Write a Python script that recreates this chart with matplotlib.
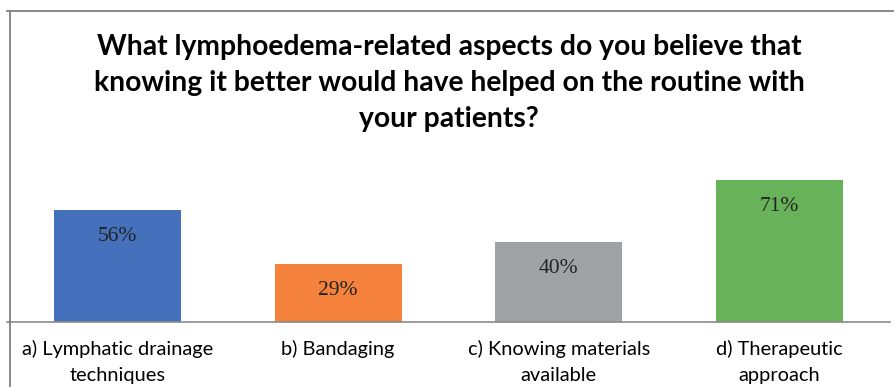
import numpy as np
import matplotlib.pyplot as plt
from matplotlib.lines import Line2D

# survey answers
categories = ["a) Lymphatic drainage\ntechniques", "b) Bandaging",
              "c) Knowing materials\navailable", "d) Therapeutic\napproach"]
percent = [56, 29, 40, 71]
bar_colors = ["#4571BC", "#F4823C", "#A0A2A6", "#68B35A"]

title = ("What lymphoedema-related aspects do you believe that\n"
         "knowing it better would have helped on the routine with\n"
         "your patients?")

W, H = 894, 387
fig = plt.figure(figsize=(W / 100, H / 100), dpi=100)

# axes placed so the baseline sits near the bottom like the original
ax = fig.add_axes([7 / W, (H - 322) / H, 883 / W, 160 / H])
x = np.arange(len(categories))
bars = ax.bar(x, percent, width=0.575, color=bar_colors, zorder=2)
ax.set_xlim(-0.5, 3.5)
ax.set_ylim(0, 80)

for b, v in zip(bars, percent):
    ax.annotate(f"{v}%", (b.get_x() + b.get_width() / 2, v),
                xytext=(0, -19), textcoords="offset points",
                ha="center", va="center", fontsize=15.5,
                family="Liberation Serif", color="#222222")

ax.set_xticks(x)
ax.set_xticklabels(categories, fontsize=14.4, family="Lato", linespacing=1.6)
ax.tick_params(axis="x", length=0, pad=13)
ax.set_yticks([])
for s in ["top", "left", "right"]:
    ax.spines[s].set_visible(False)
ax.spines["bottom"].set_color("#8a8a8a")
ax.spines["bottom"].set_linewidth(1.2)

fig.text(449 / W, 1 - 34 / H, title, ha="center", va="top", fontsize=20.3,
         family="Lato", weight="bold", linespacing=1.47)

# outer frame (top and left edges visible)
fig.add_artist(Line2D([7 / W, 1], [1 - 11 / H, 1 - 11 / H], color="#808080", lw=1.3))
fig.add_artist(Line2D([10 / W, 10 / W], [0, 1 - 11 / H], color="#808080", lw=1.3))

fig.savefig("out.png", dpi=100)
